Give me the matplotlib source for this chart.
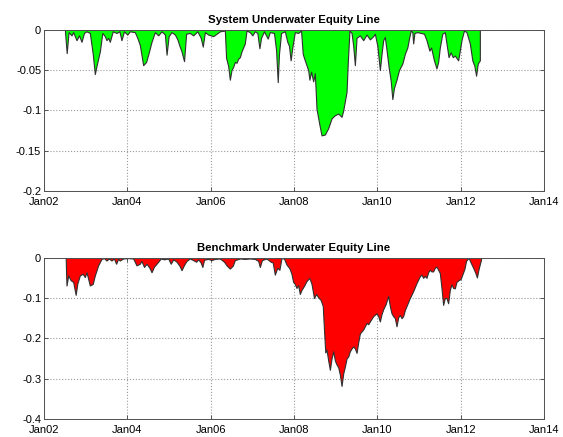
import datetime as dt
import matplotlib
matplotlib.use("Agg")
import matplotlib.pyplot as plt
import matplotlib.dates as mdates
from matplotlib.ticker import FixedLocator, FuncFormatter

# drawdown of the strategy, (decimal year, fraction below previous peak)
sys_t = [2002.50, 2002.544, 2002.59, 2002.66, 2002.70, 2002.78, 2002.84, 2002.90, 2002.96,
         2003.02, 2003.10, 2003.17, 2003.22, 2003.26, 2003.30, 2003.34, 2003.40, 2003.46,
         2003.50, 2003.54, 2003.58, 2003.65, 2003.74, 2003.81, 2003.86, 2003.92, 2004.00,
         2004.06, 2004.18, 2004.24, 2004.30, 2004.38, 2004.45, 2004.50, 2004.58, 2004.66,
         2004.74, 2004.82, 2004.90, 2004.94, 2004.99, 2005.06, 2005.14, 2005.20, 2005.25,
         2005.30, 2005.36, 2005.41, 2005.50, 2005.58, 2005.68, 2005.76, 2005.81, 2005.86,
         2005.94, 2006.06, 2006.14, 2006.22, 2006.34, 2006.37, 2006.42, 2006.46, 2006.50,
         2006.54, 2006.58, 2006.62, 2006.66, 2006.70, 2006.74, 2006.82, 2006.86, 2006.94,
         2007.00, 2007.06, 2007.12, 2007.17, 2007.21, 2007.28, 2007.37, 2007.42, 2007.52,
         2007.57, 2007.61, 2007.64, 2007.69, 2007.78, 2007.84, 2007.88, 2007.92, 2007.96,
         2008.02, 2008.10, 2008.17, 2008.21, 2008.26, 2008.30, 2008.34, 2008.37, 2008.41,
         2008.46, 2008.50, 2008.54, 2008.61, 2008.66, 2008.74, 2008.82, 2008.90, 2008.98,
         2009.06, 2009.14, 2009.18, 2009.26, 2009.29, 2009.33, 2009.38, 2009.42, 2009.46,
         2009.50, 2009.58, 2009.66, 2009.74, 2009.82, 2009.90, 2009.94, 2010.00, 2010.06,
         2010.10, 2010.14, 2010.18, 2010.22, 2010.27, 2010.32, 2010.36, 2010.40, 2010.46,
         2010.52, 2010.60, 2010.66, 2010.72, 2010.76, 2010.80, 2010.84, 2010.86, 2010.89,
         2010.96, 2011.04, 2011.12, 2011.18, 2011.25, 2011.29, 2011.36, 2011.42, 2011.46,
         2011.50, 2011.56, 2011.62, 2011.66, 2011.71, 2011.76, 2011.81, 2011.86, 2011.94,
         2011.98, 2012.02, 2012.08, 2012.14, 2012.22, 2012.28, 2012.33, 2012.37, 2012.41,
         2012.46]
sys_dd = [0.0, -0.029, -0.003, -0.007, -0.003, -0.013, -0.007, -0.015, -0.004,
          -0.002, -0.004, -0.030, -0.055, -0.045, -0.036, -0.027, -0.004, -0.008,
          -0.013, -0.010, -0.015, -0.002, -0.004, -0.002, -0.013, -0.002, -0.006,
          -0.002, -0.003, -0.010, -0.019, -0.044, -0.040, -0.031, -0.015, -0.003,
          -0.007, -0.002, -0.006, -0.031, -0.008, -0.003, -0.006, -0.012, -0.020,
          -0.027, -0.039, -0.005, -0.004, -0.007, -0.002, -0.010, -0.021, -0.003,
          -0.006, -0.008, -0.005, -0.002, -0.001, -0.035, -0.045, -0.062, -0.050,
          -0.046, -0.040, -0.041, -0.036, -0.034, -0.027, -0.017, -0.001, -0.003,
          -0.007, -0.002, -0.004, -0.023, -0.010, -0.002, -0.011, -0.003, -0.004,
          -0.025, -0.065, -0.030, -0.004, -0.002, -0.015, -0.020, -0.038, -0.022,
          -0.003, -0.004, -0.001, -0.030, -0.038, -0.044, -0.050, -0.062, -0.052,
          -0.064, -0.054, -0.098, -0.118, -0.131, -0.130, -0.122, -0.110, -0.106,
          -0.104, -0.108, -0.100, -0.077, -0.040, -0.001, -0.004, -0.020, -0.044,
          -0.010, -0.007, -0.013, -0.006, -0.012, -0.008, -0.005, -0.020, -0.050,
          -0.030, -0.013, -0.009, -0.025, -0.046, -0.063, -0.086, -0.072, -0.062,
          -0.050, -0.042, -0.030, -0.022, -0.011, -0.001, -0.003, -0.017, -0.004,
          -0.003, -0.004, -0.005, -0.013, -0.026, -0.022, -0.038, -0.048, -0.040,
          -0.022, -0.005, -0.003, -0.017, -0.034, -0.028, -0.034, -0.032, -0.038,
          -0.026, -0.013, -0.001, -0.003, -0.017, -0.038, -0.045, -0.057, -0.042,
          -0.038]

# drawdown of the benchmark index
bm_t = [2002.52, 2002.53, 2002.54, 2002.58, 2002.64, 2002.70, 2002.76, 2002.80, 2002.86,
        2002.93, 2002.98, 2003.02, 2003.10, 2003.17, 2003.22, 2003.30, 2003.38, 2003.44,
        2003.50, 2003.56, 2003.62, 2003.68, 2003.73, 2003.78, 2003.82, 2003.90, 2004.02,
        2004.14, 2004.22, 2004.30, 2004.34, 2004.40, 2004.46, 2004.53, 2004.58, 2004.64,
        2004.70, 2004.74, 2004.80, 2004.88, 2004.98, 2005.04, 2005.10, 2005.18, 2005.25,
        2005.30, 2005.36, 2005.42, 2005.50, 2005.58, 2005.65, 2005.70, 2005.76, 2005.80,
        2005.84, 2005.94, 2006.02, 2006.10, 2006.22, 2006.32, 2006.38, 2006.46, 2006.53,
        2006.58, 2006.70, 2006.82, 2006.94, 2007.06, 2007.14, 2007.18, 2007.23, 2007.34,
        2007.44, 2007.49, 2007.54, 2007.60, 2007.65, 2007.70, 2007.76, 2007.82, 2007.89,
        2007.94, 2007.98, 2008.02, 2008.06, 2008.10, 2008.14, 2008.18, 2008.24, 2008.30,
        2008.37, 2008.42, 2008.48, 2008.53, 2008.58, 2008.64, 2008.69, 2008.72, 2008.75,
        2008.78, 2008.82, 2008.86, 2008.90, 2008.94, 2008.98, 2009.02, 2009.06, 2009.10,
        2009.14, 2009.18, 2009.22, 2009.26, 2009.30, 2009.34, 2009.38, 2009.42, 2009.46,
        2009.50, 2009.54, 2009.58, 2009.66, 2009.70, 2009.74, 2009.78, 2009.82, 2009.90,
        2009.98, 2010.02, 2010.06, 2010.10, 2010.14, 2010.20, 2010.26, 2010.30, 2010.34,
        2010.38, 2010.42, 2010.46, 2010.50, 2010.54, 2010.58, 2010.62, 2010.66, 2010.70,
        2010.78, 2010.86, 2010.94, 2011.02, 2011.06, 2011.10, 2011.14, 2011.18, 2011.22,
        2011.26, 2011.30, 2011.34, 2011.38, 2011.42, 2011.46, 2011.50, 2011.54, 2011.58,
        2011.62, 2011.66, 2011.70, 2011.74, 2011.78, 2011.82, 2011.86, 2011.90, 2011.96,
        2012.00, 2012.09, 2012.13, 2012.19, 2012.24, 2012.30, 2012.35, 2012.39, 2012.43,
        2012.49]
bm_dd = [0.0, -0.040, -0.069, -0.044, -0.056, -0.060, -0.092, -0.064, -0.044,
         -0.040, -0.048, -0.036, -0.069, -0.065, -0.044, -0.019, -0.003, -0.001,
         -0.007, -0.002, -0.007, -0.002, -0.015, -0.003, -0.007, -0.002, -0.001,
         -0.002, -0.019, -0.015, -0.008, -0.023, -0.015, -0.025, -0.036, -0.022,
         -0.015, -0.010, -0.002, -0.004, -0.002, -0.015, -0.004, -0.010, -0.020,
         -0.031, -0.018, -0.008, -0.002, -0.006, -0.010, -0.004, -0.012, -0.023,
         -0.005, -0.003, -0.006, -0.003, -0.002, -0.010, -0.019, -0.027, -0.020,
         -0.006, -0.002, -0.003, -0.002, -0.003, -0.008, -0.023, -0.006, -0.002,
         -0.010, -0.012, -0.042, -0.025, -0.030, -0.001, -0.002, -0.017, -0.026,
         -0.040, -0.060, -0.065, -0.075, -0.068, -0.090, -0.080, -0.070, -0.058,
         -0.050, -0.065, -0.100, -0.090, -0.098, -0.105, -0.120, -0.180, -0.235,
         -0.228, -0.255, -0.278, -0.250, -0.232, -0.255, -0.265, -0.272, -0.290,
         -0.318, -0.287, -0.270, -0.250, -0.245, -0.232, -0.225, -0.220, -0.225,
         -0.236, -0.210, -0.188, -0.178, -0.170, -0.162, -0.165, -0.158, -0.145,
         -0.138, -0.145, -0.158, -0.140, -0.128, -0.115, -0.095, -0.120, -0.138,
         -0.145, -0.150, -0.170, -0.148, -0.142, -0.150, -0.145, -0.130, -0.120,
         -0.100, -0.083, -0.063, -0.046, -0.042, -0.050, -0.045, -0.050, -0.036,
         -0.030, -0.034, -0.034, -0.025, -0.022, -0.030, -0.038, -0.075, -0.117,
         -0.100, -0.100, -0.113, -0.080, -0.066, -0.075, -0.076, -0.060, -0.055,
         -0.053, -0.028, -0.008, 0.000, -0.012, -0.025, -0.037, -0.049, -0.028,
         -0.004]

sys_yticks = [0, -0.05, -0.1, -0.15, -0.2]
bm_yticks = [0, -0.1, -0.2, -0.3, -0.4]


def to_date(t):
    year = int(t)
    start = dt.datetime(year, 1, 1)
    days = (dt.datetime(year + 1, 1, 1) - start).days
    return start + dt.timedelta(days=(t - year) * days)


plt.rcParams['font.family'] = ['Liberation Sans', 'DejaVu Sans']
plt.rcParams['axes.unicode_minus'] = False

fig = plt.figure(figsize=(5.63, 4.37), dpi=100)

panels = [
    ([0.0782, 0.5629, 0.8881, 0.3691], sys_t, sys_dd, '#00ff00', sys_yticks,
     'System Underwater Equity Line'),
    ([0.0782, 0.0412, 0.8881, 0.3691], bm_t, bm_dd, '#ff0000', bm_yticks,
     'Benchmark Underwater Equity Line'),
]

for pos, t, dd, col, yt, title in panels:
    ax = fig.add_axes(pos)
    dates = [to_date(v) for v in t]
    ax.fill_between(dates, dd, 0, facecolor=col, edgecolor='#303030',
                    linewidth=0.8, zorder=2)
    ax.set_xlim(dt.datetime(2002, 1, 1), dt.datetime(2014, 1, 1))
    ax.set_ylim(yt[-1], 0)
    ax.xaxis.set_major_locator(mdates.YearLocator(2))
    ax.xaxis.set_major_formatter(mdates.DateFormatter('%b%y'))
    ax.yaxis.set_major_locator(FixedLocator(yt))
    ax.yaxis.set_major_formatter(FuncFormatter(lambda v, p: '%g' % v))
    ax.grid(True, linestyle=':', color='#9a9a9a', linewidth=0.8, zorder=1)
    ax.set_axisbelow(True)
    ax.tick_params(direction='in', length=3, width=0.6, labelsize=8,
                   color='#404040', top=True, right=True)
    ax.tick_params(axis='x', pad=4)
    ax.tick_params(axis='y', pad=2)
    for s in ax.spines.values():
        s.set_color('#505050')
        s.set_linewidth(0.7)
        s.set_zorder(3)
    ax.set_title(title, fontsize=8.2, fontweight='bold', pad=5)

fig.savefig('out.png', dpi=100)
